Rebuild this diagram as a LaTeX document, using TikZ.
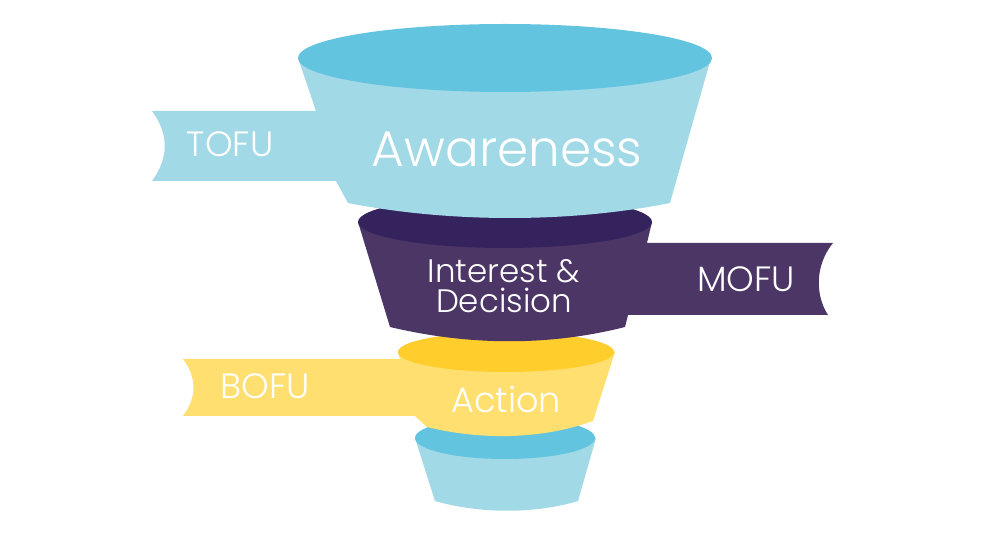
\documentclass[tikz,border=0pt]{standalone}
\usepackage{fontspec}
\IfFontExistsTF{Poppins Light}{\setmainfont{Poppins Light}}{\setmainfont{Poppins}}
\usepackage{tikz}
\usetikzlibrary{positioning}
\definecolor{capblue}{HTML}{62C4DF}
\definecolor{bodyblue}{HTML}{A2D9E6}
\definecolor{capviolet}{HTML}{35235E}
\definecolor{bodyviolet}{HTML}{4B3666}
\definecolor{capyellow}{HTML}{FFCD2C}
\definecolor{bodyyellow}{HTML}{FFDF70}
\tikzset{
  stagetext/.style={text=white,inner sep=0pt,anchor=base,font=\fontsize{28.5}{34}\selectfont},
  tagtext/.style={text=white,inner sep=0pt,anchor=base,font=\fontsize{20}{24}\selectfont},
  midtext/.style={text=white,inner sep=0pt,anchor=base,font=\fontsize{18.5}{22}\selectfont},
}
\begin{document}
\begin{tikzpicture}[x=0.02cm,y=-0.02cm]
\useasboundingbox (0,0) rectangle (985,533);

% bottom cup
\fill[bodyblue] (415,438) -- (435,501) .. controls (480,514) and (535,514) .. (578,501) -- (596,438) -- cycle;
\fill[capblue] (505,438) ellipse [x radius=90, y radius=21];

% action stage with BOFU ribbon
\fill[bodyyellow] (398,352) -- (400,359) -- (183,359) .. controls (197,378) and (197,397) .. (183,416)
  -- (415,416) -- (427,427) .. controls (480,440) and (540,440) .. (593,421) -- (615,352) -- cycle;
\fill[capyellow] (506,352) ellipse [x radius=108, y radius=20];

% interest stage with MOFU ribbon
\fill[bodyviolet] (358,222) -- (390,327) .. controls (470,346) and (550,346) .. (625,327) -- (628,315)
  -- (828,315) .. controls (815,295) and (815,265) .. (833,243) -- (647,243) -- (652,222) -- cycle;
\fill[capviolet] (505,222) ellipse [x radius=147, y radius=26];

% awareness stage with TOFU ribbon
\fill[bodyblue] (298,58) -- (316,111) -- (152,111) .. controls (169,134) and (169,158) .. (152,181)
  -- (336,181) -- (348,203) .. controls (450,223) and (570,223) .. (670,203) -- (711,58) -- cycle;
\fill[capblue] (505,58) ellipse [x radius=207, y radius=34];

% labels
\node[stagetext] (awareness) at (507,167) {Awareness};
\node[tagtext] (tofu) at (230,157) {TOFU};
\node[midtext] (interest) at (504,283) {Interest \&};
\node[midtext] (decision) at (504,313) {Decision};
\node[tagtext] (mofu) at (746,292) {MOFU};
\node[tagtext] (action) at (506,413) {Action};
\node[tagtext] (bofu) at (265,399) {BOFU};

\end{tikzpicture}
\end{document}
